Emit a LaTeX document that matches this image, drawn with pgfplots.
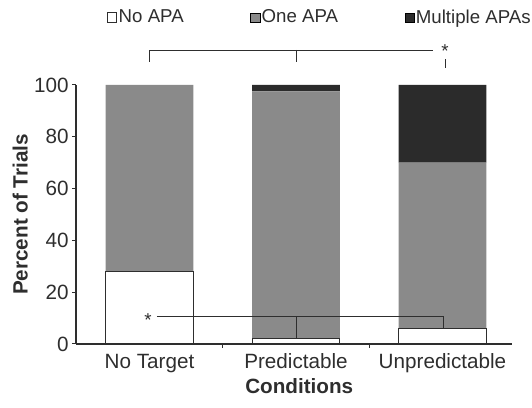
\documentclass[border=0pt]{standalone}
\usepackage{pgfplots}
\pgfplotsset{compat=1.18}
\usepackage{fontspec}
\setmainfont{Liberation Sans}
\definecolor{barGray}{HTML}{8A8A8A}
\definecolor{barBlack}{HTML}{2B2B2B}
\definecolor{ink}{HTML}{2E2E2E}
\begin{document}
\begin{tikzpicture}
\begin{axis}[
  x=109.875pt, y=1.9425pt,
  xmin=-0.502, xmax=2.475, ymin=0, ymax=100,
  axis x line=bottom, axis y line=left,
  axis line style={-, line width=1pt, draw=ink},
  ybar stacked, bar width=0.6,
  clip=false,
  xtick={0,1,2}, xticklabels={No Target,Predictable,Unpredictable},
  major x tick style={draw=none},
  minor xtick={0.5,1.5},
  minor x tick style={draw=ink, line width=0.8pt},
  minor tick length=3pt,
  ytick={0,20,40,60,80,100},
  major y tick style={draw=ink, line width=0.8pt},
  major tick length=3pt,
  tick align=outside,
  /pgf/number format/assume math mode=true,
  tick label style={font=\fontsize{15.5}{18}\selectfont, text=ink},
  yticklabel style={xshift=1pt},
  xticklabel style={yshift=-1pt},
  xlabel={\textbf{Conditions}},
  ylabel={\textbf{Percent of Trials}},
  label style={font=\fontsize{15.5}{18}\selectfont, text=ink},
  xlabel style={at={(axis description cs:0.512,-0.162)}, anchor=center},
  ylabel style={at={(axis description cs:-0.128,0.5)}, anchor=center, rotate=0},
  legend columns=3,
  legend style={draw=none, fill=none, at={(0.5585,1.2606)}, anchor=center,
    font=\fontsize{14}{16}\selectfont, text=ink,
    nodes={inner sep=1pt},
    /tikz/every even column/.append style={column sep=49pt},
    /tikz/every odd column/.append style={column sep=0pt}},
  legend image code/.code={\draw[#1] (0pt,-3.5pt) rectangle (7pt,3.5pt);},
  legend cell align=left,
]
\addplot[fill=white, draw=ink, line width=0.8pt] coordinates {(0,28) (1,2) (2,6)};
\addplot[fill=barGray, draw=none] coordinates {(0,72) (1,95.5) (2,64)};
\addplot[fill=barBlack, draw=none] coordinates {(0,0) (1,2.5) (2,30)};
\legend{No APA, One APA, Multiple APAs}

% anchor coordinates for significance brackets
\coordinate (ta) at (axis cs:0,108.9);
\coordinate (tb) at (axis cs:0,113.5);
\coordinate (tc) at (axis cs:1.935,113.5);
\coordinate (td) at (axis cs:1,113.5);
\coordinate (te) at (axis cs:1,108.9);
\coordinate (ts) at (axis cs:2.017,113.0);
\coordinate (tf) at (axis cs:2.017,110.0);
\coordinate (tg) at (axis cs:2.017,106.6);
\coordinate (ba) at (axis cs:0.05,10.5);
\coordinate (bb) at (axis cs:2.005,10.5);
\coordinate (bc) at (axis cs:2.005,5.8);
\coordinate (bd) at (axis cs:1,10.5);
\coordinate (be) at (axis cs:1,2.3);
\coordinate (bs) at (axis cs:-0.01,9.4);

\coordinate (bl) at (axis cs:-1.0205,-24.7);
\coordinate (tr) at (axis cs:2.611,132.8);
\end{axis}
\draw[ink, line width=0.7pt] (ta) -- (tb) -- (tc);
\draw[ink, line width=0.7pt] (td) -- (te);
\node[text=ink, font=\fontsize{14}{16}\selectfont] at (ts) {*};
\draw[ink, line width=0.7pt] (tf) -- (tg);
\draw[ink, line width=0.7pt] (ba) -- (bb) -- (bc);
\draw[ink, line width=0.7pt] (bd) -- (be);
\node[text=ink, font=\fontsize{14}{16}\selectfont] at (bs) {*};
\pgfresetboundingbox
\path[use as bounding box] (bl) rectangle (tr);
\end{tikzpicture}
\end{document}
